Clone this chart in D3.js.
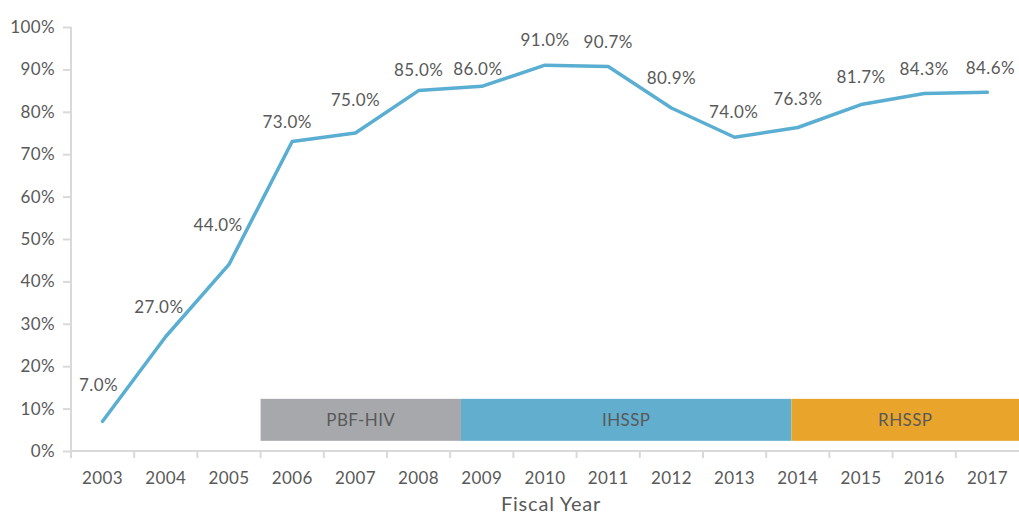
<!DOCTYPE html>
<html lang="en">
<head>
    <meta charset="utf-8">
    <title>Fiscal Year coverage</title>
    <script src="https://d3js.org/d3.v7.min.js"></script>
    <style>
        body { margin: 0; background: #fff; }
        text { font-family: Lato, "Open Sans", sans-serif; fill: #595959; letter-spacing: 0.4px; }
    </style>
</head>
<body>
<svg width="1019" height="516"></svg>
<script>
    // data
    var years = ["2003","2004","2005","2006","2007","2008","2009","2010","2011","2012","2013","2014","2015","2016","2017"];
    var values = [7.0, 27.0, 44.0, 73.0, 75.0, 85.0, 86.0, 91.0, 90.7, 80.9, 74.0, 76.3, 81.7, 84.3, 84.6];
    var yTicks = [0,10,20,30,40,50,60,70,80,90,100];

    // programme periods (in category units along the x axis)
    var programmes = ["PBF-HIV","IHSSP","RHSSP"];
    var progStart = [3, 6.17, 11.4];
    var progEnd = [6.17, 11.4, 15];
    var progColor = ["#a7a8ac","#61aecf","#e9a52b"];

    // label nudges [dx, dy] relative to the point
    var labelOffset = [[-4,-30],[-7,-24],[-11,-33],[-5,-13],[0,-27],[0,-15],[-4,-11],[0,-19],[0,-18],[0,-24],[-1,-19],[0,-22],[0,-22],[0,-19],[3,-18]];

    var marge = {top:27,bottom:65,left:71,right:0};
    var svg = d3.select("svg");
    var width = 1019 - marge.left - marge.right;
    var height = 516 - marge.top - marge.bottom;
    var g = svg.append("g")
        .attr("transform","translate("+marge.left+","+marge.top+")");

    var x = d3.scaleBand().domain(years).range([0,width]);
    var xUnit = d3.scaleLinear().domain([0,years.length]).range([0,width]);
    var y = d3.scaleLinear().domain([0,100]).range([height,0]);

    // programme bars
    var bands = g.selectAll(".prog")
        .data(programmes)
        .enter()
        .append("g");
    bands.append("rect")
        .attr("x",function(d,i){ return xUnit(progStart[i]); })
        .attr("width",function(d,i){ return xUnit(progEnd[i]) - xUnit(progStart[i]); })
        .attr("y",y(12.3))
        .attr("height",y(2.4) - y(12.3))
        .attr("fill",function(d,i){ return progColor[i]; });
    bands.append("text")
        .attr("x",function(d,i){ return (xUnit(progStart[i]) + xUnit(progEnd[i]))/2; })
        .attr("y",(y(12.3)+y(2.4))/2 + 6)
        .attr("text-anchor","middle")
        .style("font-size","17px")
        .text(function(d){ return d; });

    // y axis
    var yAxis = g.append("g")
        .call(d3.axisLeft(y).tickValues(yTicks).tickSize(8).tickPadding(8).tickFormat(function(d){ return d+"%"; }));
    yAxis.select(".domain").attr("stroke","#d9d9d9").attr("stroke-width",2).attr("d","M0,"+height+"V0");
    yAxis.selectAll(".tick line").attr("stroke","#d9d9d9").attr("stroke-width",2);
    yAxis.selectAll("text").style("font-size","17px").attr("fill","#595959");

    // x axis
    var xAxis = g.append("g")
        .attr("transform","translate(0,"+height+")")
        .call(d3.axisBottom(x).tickSize(0).tickPadding(21));
    xAxis.select(".domain").attr("stroke","#d9d9d9").attr("stroke-width",2).attr("d","M0,0H"+width);
    xAxis.selectAll("text").style("font-size","17px").attr("fill","#595959");
    xAxis.selectAll(".sep")
        .data(d3.range(years.length))
        .enter()
        .append("line")
        .attr("x1",function(d){ return xUnit(d); })
        .attr("x2",function(d){ return xUnit(d); })
        .attr("y1",0)
        .attr("y2",7)
        .attr("stroke","#d9d9d9")
        .attr("stroke-width",2);

    g.append("text")
        .attr("x",width/2 + 6)
        .attr("y",height + 60)
        .attr("text-anchor","middle")
        .style("font-size","20px")
        .style("letter-spacing","0.8px")
        .text("Fiscal Year");

    // line
    var line = d3.line()
        .x(function(d,i){ return x(years[i]) + x.bandwidth()/2; })
        .y(function(d){ return y(d); });
    g.append("path")
        .datum(values)
        .attr("d",line)
        .attr("fill","none")
        .attr("stroke","#5aaed1")
        .attr("stroke-width",3.5)
        .attr("stroke-linejoin","round")
        .attr("stroke-linecap","round");

    g.selectAll(".lbl")
        .data(values)
        .enter()
        .append("text")
        .attr("x",function(d,i){ return x(years[i]) + x.bandwidth()/2 + labelOffset[i][0]; })
        .attr("y",function(d,i){ return y(d) + labelOffset[i][1]; })
        .attr("text-anchor","middle")
        .style("font-size","17px")
        .text(function(d){ return d.toFixed(1)+"%"; });
</script>
</body>
</html>
